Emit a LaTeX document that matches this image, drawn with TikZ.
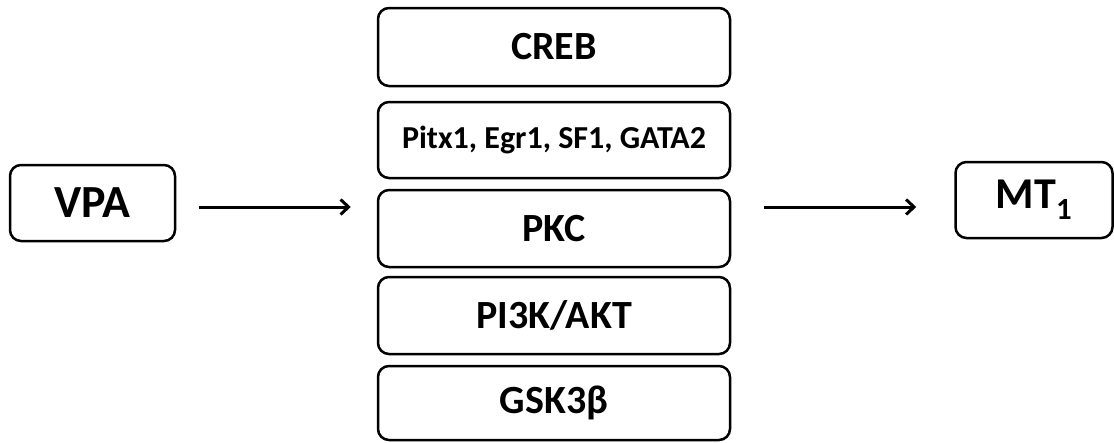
\documentclass[tikz,border=0pt]{standalone}
\usepackage{fontspec}
\setmainfont{Carlito}
\usetikzlibrary{arrows.meta}
\tikzset{
  box/.style={draw=black, line width=2.5pt, rounded corners=11pt, fill=white,
    align=center, inner sep=0pt, font=\bfseries},
  stack/.style={box, minimum width=352pt},
  big/.style={font=\bfseries\fontsize{40}{44}\selectfont},
  link/.style={line width=3pt, -{Straight Barb[length=8pt,width=15pt,line width=3pt]}}
}
\begin{document}
\begin{tikzpicture}[x=1pt,y=-1pt]
  \useasboundingbox (0,0) rectangle (1114,442);
  \fill[white] (0,0) rectangle (1114,442);

  % input and output
  \node[box, minimum width=165pt, minimum height=76pt, font=\bfseries\fontsize{46}{50}\selectfont]
    (vpa) at (92.5,203) {VPA};
  \node[box, minimum width=157pt, minimum height=76pt, font=\bfseries\fontsize{44}{48}\selectfont]
    (mt) at (1034,200) {MT\textsubscript{\raisebox{-4pt}{1}}};

  % stack of mediators
  \node[stack, big, minimum height=78pt] (creb) at (554,47) {CREB};
  \node[stack, minimum height=76pt, font=\bfseries\fontsize{32}{36}\selectfont]
    (tf) at (554,140) {Pitx1, Egr1, SF1, GATA2};
  \node[stack, big, minimum height=77pt] (pkc) at (554,228.5) {PKC};
  \node[stack, big, minimum height=77pt] (pi3k) at (554,315.5) {PI3K/AKT};
  \node[stack, big, minimum height=74pt] (gsk) at (554,403) {GSK3β};

  % arrows
  \draw[link, shorten <=23pt, shorten >=26pt]
    ([yshift=-4pt]vpa.east) -- ([yshift=-4pt]vpa.east -| pkc.west);
  \draw[link, shorten <=33pt, shorten >=38pt]
    ([yshift=-7pt]mt.west -| pkc.east) -- ([yshift=-7pt]mt.west);
\end{tikzpicture}
\end{document}
